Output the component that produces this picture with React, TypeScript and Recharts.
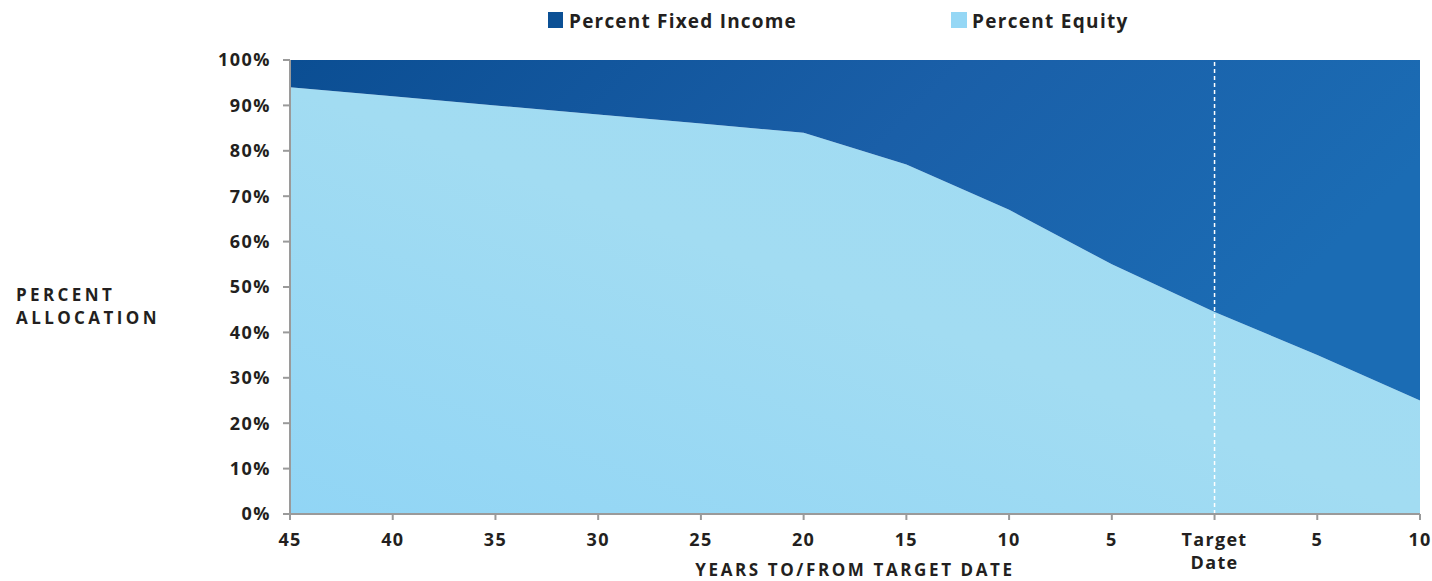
import { Area, AreaChart, ReferenceLine, XAxis, YAxis } from "recharts";

const years = ["45", "40", "35", "30", "25", "20", "15", "10", "5", "Target Date", "5", "10"];
const equity = [94, 92, 90, 88, 86, 84, 77, 67, 55, 44.5, 35, 25];
const fixedIncome = [6, 8, 10, 12, 14, 16, 23, 33, 45, 55.5, 65, 75];
const yTicks = [0, 10, 20, 30, 40, 50, 60, 70, 80, 90, 100];

// years repeat after the target date, so each point gets its own key
const data = years.map((year, i) => ({
  key: `k${i}`,
  year,
  equity: equity[i],
  fixedIncome: fixedIncome[i],
}));
const targetKey = `k${years.indexOf("Target Date")}`;

const FONT = "'Open Sans', sans-serif";
const INK = "#231f20";
const AXIS = "#9a9a9a";

const XTick = (props: any) => {
  const { x, y, payload } = props;
  const idx = Number(String(payload.value).slice(1));
  const lines = years[idx].split(" ");
  return (
    <g>
      {lines.map((l, i) => (
        <text
          key={i}
          x={x}
          y={y + 24 + i * 23}
          textAnchor="middle"
          fill={INK}
          fontFamily={FONT}
          fontWeight={700}
          fontSize={18}
          letterSpacing={1.3}
        >
          {l}
        </text>
      ))}
    </g>
  );
};

const App = () => {
  return (
    <div
      style={{
        position: "absolute",
        left: 0,
        top: 0,
        width: 1432,
        height: 581,
        background: "#fff",
        fontFamily: FONT,
        color: INK,
      }}
    >
      {/* legend */}
      <div style={{ position: "absolute", left: 548, top: 12, width: 15, height: 16, background: "#0b5095" }} />
      <div
        style={{ position: "absolute", left: 569, top: 8, fontSize: 19, fontWeight: 700, lineHeight: "26px", letterSpacing: 1.2 }}
      >
        Percent Fixed Income
      </div>
      <div style={{ position: "absolute", left: 951, top: 12, width: 16, height: 16, background: "#95d7f5" }} />
      <div
        style={{ position: "absolute", left: 972, top: 8, fontSize: 19, fontWeight: 700, lineHeight: "26px", letterSpacing: 1.3 }}
      >
        Percent Equity
      </div>

      {/* y axis title */}
      <div
        style={{
          position: "absolute",
          left: 16,
          top: 283,
          fontSize: 17,
          fontWeight: 700,
          lineHeight: "23px",
          letterSpacing: 3.4,
        }}
      >
        PERCENT
        <br />
        ALLOCATION
      </div>

      {/* x axis title */}
      <div
        style={{
          position: "absolute",
          left: 605,
          width: 500,
          top: 558,
          textAlign: "center",
          fontSize: 17,
          fontWeight: 700,
          lineHeight: "23px",
          letterSpacing: 2.6,
        }}
      >
        YEARS TO/FROM TARGET DATE
      </div>

      <div style={{ position: "absolute", left: 0, top: 0 }}>
        <AreaChart
          width={1432}
          height={581}
          data={data}
          margin={{ top: 60, right: 12, bottom: 0, left: 0 }}
        >
          <defs>
            <linearGradient id="fixedFill" x1="0" y1="0" x2="1" y2="0.3">
              <stop offset="0%" stopColor="#0b4e93" />
              <stop offset="55%" stopColor="#1a5fa8" />
              <stop offset="100%" stopColor="#1b6cb4" />
            </linearGradient>
            <linearGradient id="equityFill" x1="0" y1="1" x2="1" y2="0">
              <stop offset="0%" stopColor="#91d5f5" />
              <stop offset="50%" stopColor="#a2dcf2" />
              <stop offset="100%" stopColor="#a0dbf3" />
            </linearGradient>
          </defs>
          <XAxis
            dataKey="key"
            interval={0}
            tickSize={6}
            axisLine={{ stroke: AXIS, strokeWidth: 2 }}
            tickLine={{ stroke: AXIS, strokeWidth: 2 }}
            tick={<XTick />}
            height={67}
          />
          <YAxis
            domain={[0, 100]}
            ticks={yTicks}
            interval={0}
            width={290}
            tickSize={7}
            tickMargin={12}
            tickFormatter={(v: number) => `${v}%`}
            axisLine={{ stroke: AXIS, strokeWidth: 2 }}
            tickLine={{ stroke: AXIS, strokeWidth: 2 }}
            tick={{ fill: INK, fontFamily: FONT, fontWeight: 700, fontSize: 18, letterSpacing: 1.5 }}
          />
          <Area
            type="linear"
            dataKey="equity"
            stackId="alloc"
            stroke="none"
            fill="url(#equityFill)"
            fillOpacity={1}
            isAnimationActive={false}
          />
          <Area
            type="linear"
            dataKey="fixedIncome"
            stackId="alloc"
            stroke="none"
            fill="url(#fixedFill)"
            fillOpacity={1}
            isAnimationActive={false}
          />
          <ReferenceLine x={targetKey} stroke="#ffffff" strokeWidth={1.5} strokeDasharray="4 3" />
        </AreaChart>
      </div>
    </div>
  );
};

export default App;
